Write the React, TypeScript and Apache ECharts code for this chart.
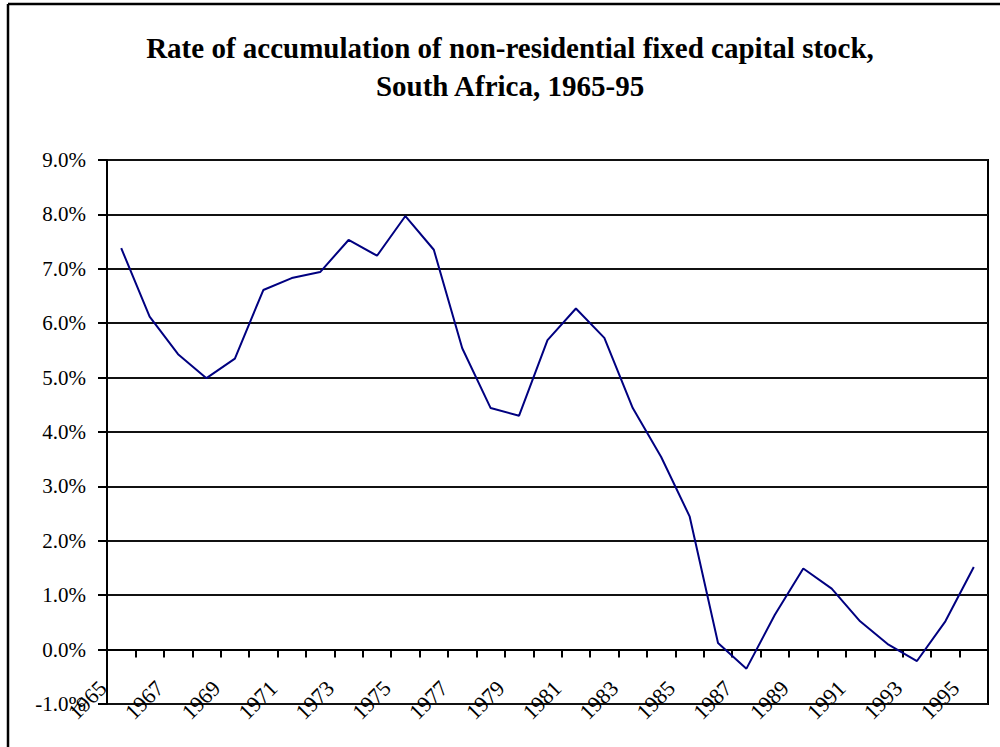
import React, { useEffect, useRef } from "react";
import * as echarts from "echarts";

const years: string[] = [
  "1965", "1966", "1967", "1968", "1969", "1970", "1971", "1972", "1973", "1974",
  "1975", "1976", "1977", "1978", "1979", "1980", "1981", "1982", "1983", "1984",
  "1985", "1986", "1987", "1988", "1989", "1990", "1991", "1992", "1993", "1994", "1995",
];

const accumulationRate: number[] = [
  7.38, 6.12, 5.43, 4.99, 5.35, 6.61, 6.83, 6.94, 7.53, 7.24,
  7.97, 7.35, 5.54, 4.44, 4.3, 5.69, 6.27, 5.73, 4.44, 3.54,
  2.45, 0.12, -0.35, 0.64, 1.49, 1.12, 0.52, 0.09, -0.21, 0.52, 1.52,
];

const titleLines: string[] = [
  "Rate of accumulation of non-residential fixed capital stock,",
  "South Africa, 1965-95",
];

const FONT = '"Liberation Serif", "Times New Roman", serif';

export default function App() {
  const ref = useRef<HTMLDivElement>(null);
  useEffect(() => {
    document.body.style.margin = "0";
    const chart = echarts.init(ref.current!, undefined, { renderer: "svg" });
    chart.setOption({
      animation: false,
      backgroundColor: "#ffffff",
      grid: {
        left: 107,
        right: 12,
        top: 160,
        bottom: 43,
        show: true,
        borderColor: "#000",
        borderWidth: 2,
        containLabel: false,
      },
      graphic: [
        { type: "line", shape: { x1: 8, y1: 4, x2: 1000, y2: 4 }, style: { stroke: "#000", lineWidth: 2.5 } },
        { type: "line", shape: { x1: 8, y1: 4, x2: 8, y2: 747 }, style: { stroke: "#000", lineWidth: 2.5 } },
        {
          type: "text",
          x: 510,
          y: 29,
          style: {
            text: titleLines.join("\n"),
            font: `bold 29px ${FONT}`,
            fill: "#000",
            textAlign: "center",
            lineHeight: 38,
          },
        },
      ],
      xAxis: [
        {
          type: "category",
          data: years,
          boundaryGap: true,
          axisLine: { onZero: true, lineStyle: { color: "#000", width: 2 } },
          axisTick: { show: true, interval: 0, length: 8, lineStyle: { color: "#000", width: 2 } },
          axisLabel: { show: false },
          splitLine: { show: false },
        },
        {
          type: "category",
          data: years,
          position: "bottom",
          boundaryGap: true,
          axisLine: { show: false, onZero: false },
          axisTick: { show: false },
          axisLabel: {
            show: true,
            interval: 1,
            rotate: 45,
            margin: -38,
            padding: [0, 26, 0, 0],
            color: "#000",
            fontFamily: FONT,
            fontSize: 22,
          },
          splitLine: { show: false },
        },
      ],
      yAxis: {
        type: "value",
        min: -1,
        max: 9,
        interval: 1,
        axisLine: { show: true, onZero: false, lineStyle: { color: "#000", width: 2 } },
        axisTick: { show: true, length: 9, lineStyle: { color: "#000", width: 2 } },
        axisLabel: {
          color: "#000",
          fontFamily: FONT,
          fontSize: 21,
          margin: 21,
          formatter: (v: number) => v.toFixed(1) + "%",
        },
        splitLine: { show: true, lineStyle: { color: "#111", width: 2 } },
      },
      series: [
        {
          type: "line",
          xAxisIndex: 0,
          data: accumulationRate,
          showSymbol: false,
          symbol: "none",
          lineStyle: { color: "#000080", width: 2 },
          z: 3,
        },
      ],
    });
    return () => chart.dispose();
  }, []);
  return <div ref={ref} style={{ width: 1000, height: 747, position: "absolute", left: 0, top: 0 }} />;
}
